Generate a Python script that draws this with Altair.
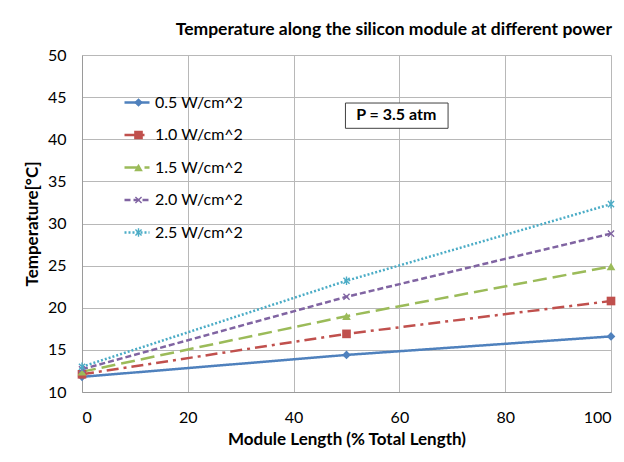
import math
import altair as alt
import pandas as pd

series = ["0.5 W/cm^2", "1.0 W/cm^2", "1.5 W/cm^2", "2.0 W/cm^2", "2.5 W/cm^2"]
positions = [0, 50, 100]
t_05 = [11.8, 14.4, 16.6]
t_10 = [12.1, 16.9, 20.8]
t_15 = [12.4, 19.0, 24.9]
t_20 = [12.7, 21.3, 28.8]
t_25 = [13.0, 23.2, 32.3]
colors = ["#4F81BD", "#C0504D", "#9BBB59", "#8064A2", "#4BACC6"]
dashes = [[1, 0], [12, 5, 3, 5], [14, 6], [6, 3], [2, 2]]

annot_text = "P = 3.5 atm"
annot_x, annot_y = 59.4, 42.9
box_x, box_x2, box_y, box_y2 = 49.8, 69.2, 44.3, 41.3


def bar_path(angle_deg, w=0.16):
    pts = [(-1, -w), (1, -w), (1, w), (-1, w)]
    a = math.radians(angle_deg)
    out = []
    for px, py in pts:
        out.append((px * math.cos(a) - py * math.sin(a), px * math.sin(a) + py * math.cos(a)))
    return "M" + "L".join(f"{x:.3f},{y:.3f}" for x, y in out) + "Z"


x_shape = bar_path(45) + bar_path(135)
star_shape = bar_path(45) + bar_path(135) + bar_path(90)
shapes = ["diamond", "square", "triangle-up", x_shape, star_shape]

rows = []
for s, vals in zip(series, [t_05, t_10, t_15, t_20, t_25]):
    for p, v in zip(positions, vals):
        rows.append({"series": s, "mk": s, "x": p, "y": v})
df = pd.DataFrame(rows)

FONT = "Lato"
xs = alt.X("x:Q", scale=alt.Scale(domain=[0, 100], nice=False),
           axis=alt.Axis(values=[0, 20, 40, 60, 80, 100], title="Module Length (% Total Length)",
                         titleFontSize=17, titleFontWeight="bold", titlePadding=6, labelPadding=17))
ys = alt.Y("y:Q", scale=alt.Scale(domain=[10, 50], nice=False),
           axis=alt.Axis(values=list(range(10, 51, 5)), title="Temperature[°C]",
                         titleFontSize=17, titleFontWeight="bold", titlePadding=6, labelPadding=16))

LEG_TOP = 35
ROW_H = 25
ROW_PAD = 7.5


def line_legend():
    return alt.Legend(title=None, orient="none", legendX=41, legendY=LEG_TOP,
                      padding=0, labelFontSize=16, labelFont=FONT, symbolType="stroke",
                      symbolSize=625, symbolStrokeWidth=2.5, clipHeight=ROW_H,
                      rowPadding=ROW_PAD, labelOffset=4, labelColor="#000")


def marker_legend():
    return alt.Legend(title=None, orient="none", legendX=48.5, legendY=LEG_TOP,
                      padding=0, labelFontSize=16, labelFont=FONT, symbolSize=75,
                      clipHeight=ROW_H, rowPadding=ROW_PAD, labelExpr="''",
                      symbolOpacity=1)


lines = alt.Chart(df).mark_line(strokeWidth=2.5).encode(
    x=xs, y=ys,
    color=alt.Color("series:N", scale=alt.Scale(domain=series, range=colors), legend=line_legend()),
    strokeDash=alt.StrokeDash("series:N", scale=alt.Scale(domain=series, range=dashes),
                              legend=line_legend()),
)

pts = alt.Chart(df).mark_point(filled=True, size=75, opacity=1).encode(
    x="x:Q", y="y:Q",
    color=alt.Color("mk:N", scale=alt.Scale(domain=series, range=colors), legend=marker_legend()),
    shape=alt.Shape("mk:N", scale=alt.Scale(domain=series, range=shapes), legend=marker_legend()),
)

box = alt.Chart(pd.DataFrame({"x": [box_x], "x2": [box_x2], "y": [box_y], "y2": [box_y2]})).mark_rect(
    fill="white", stroke="#404040", strokeWidth=1).encode(x="x:Q", x2="x2:Q", y="y:Q", y2="y2:Q")
label = alt.Chart(pd.DataFrame({"x": [annot_x], "y": [annot_y], "t": [annot_text]})).mark_text(
    fontSize=16, fontWeight="bold", font=FONT, color="#000").encode(x="x:Q", y="y:Q", text="t:N")

chart = alt.layer(lines, pts, box, label).resolve_scale(
    color="independent", shape="independent", strokeDash="independent"
).properties(
    width=529, height=337,
    title=alt.TitleParams("Temperature along the silicon module at different power",
                          fontSize=17.5, fontWeight="bold", font=FONT, anchor="end", offset=9,
                          dx=-4, color="#000"),
    autosize=alt.AutoSizeParams(type="none"),
    padding={"left": 74, "top": 47, "right": 5, "bottom": 60},
).configure_view(stroke=None).configure_axis(
    labelFont=FONT, titleFont=FONT, labelFontSize=16, labelColor="#000", titleColor="#000",
    gridColor="#b8b8b8", gridWidth=1, domainColor="#9a9a9a", ticks=False,
)

chart.save("out.html", embed_options={"renderer": "svg", "actions": False})
